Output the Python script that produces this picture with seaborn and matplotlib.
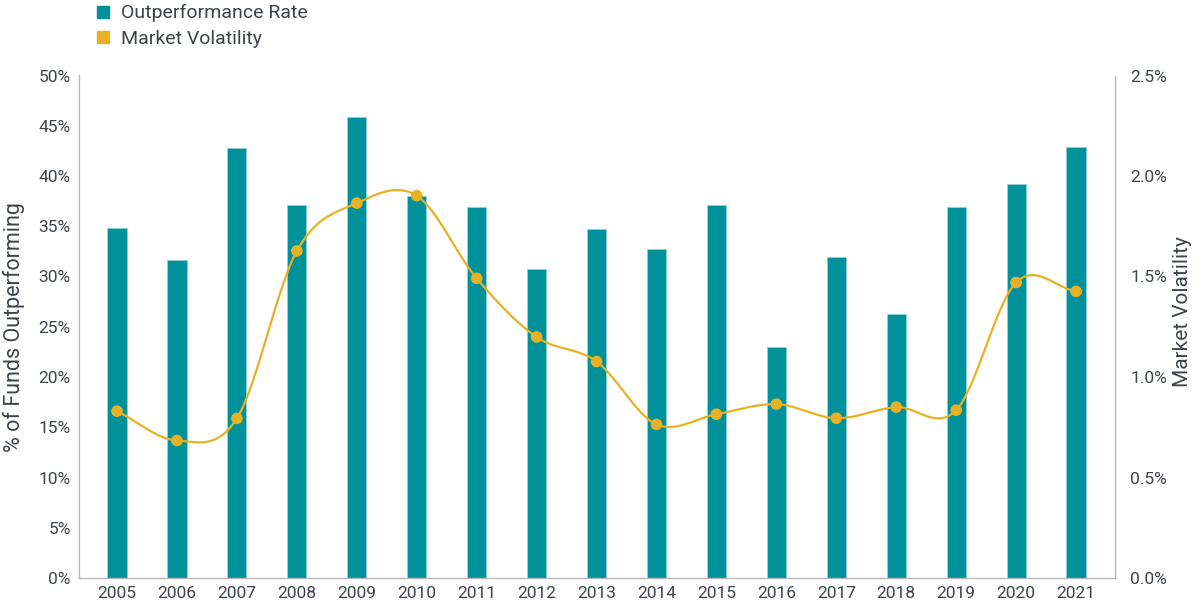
import numpy as np
import pandas as pd
import matplotlib
matplotlib.use("Agg")
import matplotlib.pyplot as plt
from matplotlib.lines import Line2D
import seaborn as sns

years = ["2005", "2006", "2007", "2008", "2009", "2010", "2011", "2012", "2013",
         "2014", "2015", "2016", "2017", "2018", "2019", "2020", "2021"]
outperformance = [34.8, 31.6, 42.8, 37.1, 45.9, 38.0, 36.9, 30.7, 34.7,
                  32.7, 37.1, 23.0, 31.9, 26.3, 36.9, 39.2, 42.9]
volatility = [0.83, 0.684, 0.794, 1.627, 1.865, 1.902, 1.491, 1.199, 1.077,
              0.764, 0.815, 0.865, 0.795, 0.85, 0.835, 1.47, 1.426]
left_ticks = [0, 5, 10, 15, 20, 25, 30, 35, 40, 45, 50]
right_ticks = [0.0, 0.5, 1.0, 1.5, 2.0, 2.5]

TEAL = "#00919A"
GOLD = "#E8B124"
TXT = "#3d4349"
SPINE = "#b8b8b8"

sns.set_theme(style="white")
plt.rcParams['font.family'] = ['Roboto', 'DejaVu Sans']

df = pd.DataFrame({"year": years, "rate": outperformance, "vol": volatility})

fig = plt.figure(figsize=(12, 6.04), dpi=100)
ax = fig.add_axes([79/1200, 1 - 578/604, (1115 - 79)/1200, (578 - 75.5)/604])

sns.barplot(data=df, x="year", y="rate", color=TEAL, width=0.32, ax=ax,
            edgecolor="#8fd3d6", linewidth=0.6, saturation=1)
ax.set_xlim(-0.634, 16.65)
ax.set_ylim(0, 50)
ax.set_yticks(left_ticks)
ax.set_yticklabels([f"{t}%" for t in left_ticks])
ax.set_xlabel("")
ax.set_ylabel("% of Funds Outperforming", fontsize=15.5, color=TXT, labelpad=10)
ax.tick_params(axis="both", length=0, labelsize=12.5, colors=TXT, pad=6)

ax2 = ax.twinx()
# smooth curve through the points (Catmull-Rom)
xs = np.arange(len(volatility), dtype=float)
ys = np.array(volatility)
m = np.zeros_like(ys)
m[1:-1] = (ys[2:] - ys[:-2]) / 2
m[0] = ys[1] - ys[0]
m[-1] = ys[-1] - ys[-2]
cx, cy = [], []
for i in range(len(ys) - 1):
    t = np.linspace(0, 1, 40)
    h00 = 2*t**3 - 3*t**2 + 1
    h10 = t**3 - 2*t**2 + t
    h01 = -2*t**3 + 3*t**2
    h11 = t**3 - t**2
    cx.extend(xs[i] + t)
    cy.extend(h00*ys[i] + h10*m[i] + h01*ys[i+1] + h11*m[i+1])
ax2.plot(cx, cy, color=GOLD, lw=1.6, zorder=3)
sns.scatterplot(x=xs, y=ys, color=GOLD, s=70, edgecolor="none", ax=ax2, zorder=4)
ax2.set_xlim(-0.634, 16.65)
ax2.set_ylim(0, 2.5)
ax2.set_yticks(right_ticks)
ax2.set_yticklabels([f"{t:.1f}%" for t in right_ticks])
ax2.set_ylabel("Market Volatility", fontsize=15, color=TXT, labelpad=4)
ax2.yaxis.label.set_y(0.53)
ax2.tick_params(axis="y", length=0, labelsize=12.5, colors=TXT, pad=11)

for a in (ax, ax2):
    a.spines["top"].set_visible(False)
    for s in ("left", "right", "bottom"):
        a.spines[s].set_color(SPINE)
        a.spines[s].set_linewidth(1.0)
ax.spines["right"].set_visible(False)
ax2.spines["left"].set_visible(False)
ax2.spines["bottom"].set_visible(False)

handles = [Line2D([], [], marker="s", linestyle="none", markersize=8, color=TEAL),
           Line2D([], [], marker="s", linestyle="none", markersize=8, color=GOLD)]
fig.legend(handles, ["Outperformance Rate", "Market Volatility"], loc="upper left",
           bbox_to_anchor=(82/1200, 1.009), frameon=False, fontsize=14,
           labelcolor=TXT, handletextpad=0.3, labelspacing=0.4, handlelength=1.2,
           borderaxespad=0.1)

fig.savefig("out.png", dpi=100)
